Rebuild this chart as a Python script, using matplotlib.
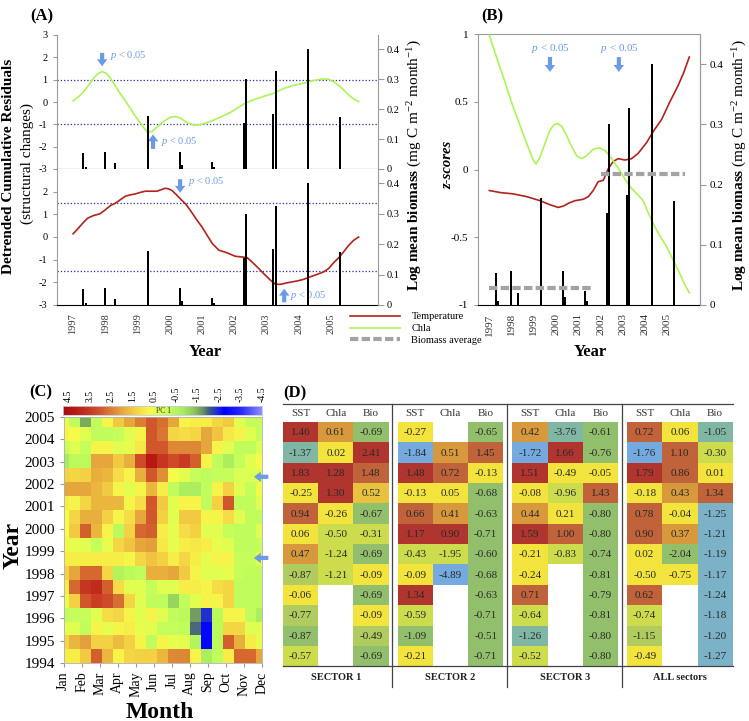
import numpy as np
import matplotlib
matplotlib.use('Agg')
import matplotlib.pyplot as plt
from matplotlib.colors import LinearSegmentedColormap, Normalize
from matplotlib.patches import Rectangle
from matplotlib.lines import Line2D

plt.rcParams['font.family'] = ['Liberation Serif', 'DejaVu Serif']
plt.rcParams['mathtext.fontset'] = 'custom'
plt.rcParams['mathtext.rm'] = 'Liberation Serif'
plt.rcParams['mathtext.it'] = 'Liberation Serif:italic'
plt.rcParams['mathtext.bf'] = 'Liberation Serif:bold'
plt.rcParams['axes.unicode_minus'] = False

# ---------------- data ----------------
# biomass bars (sampling times, log mean biomass)
bar_yr = [1997.31, 1997.40, 1997.99, 1998.30, 1999.33, 2000.32, 2000.38, 2001.31, 2001.37,
          2002.30, 2002.36, 2003.20, 2003.29, 2004.29, 2005.28]
bar_bio = [0.053, 0.007, 0.057, 0.020, 0.177, 0.057, 0.013, 0.023, 0.007,
           0.153, 0.300, 0.183, 0.327, 0.400, 0.173]

# (A) detrended cumulative residuals, Chla
chla_cum_yr = [1997.00, 1997.18, 1997.33, 1997.49, 1997.64, 1997.76, 1997.90, 1998.03, 1998.16, 1998.31,
               1998.47, 1998.67, 1998.88, 1999.09, 1999.24, 1999.33, 1999.45, 1999.60, 1999.81, 2000.02,
               2000.17, 2000.33, 2000.53, 2000.74, 2000.95, 2001.26, 2001.57, 2001.88, 2002.14, 2002.34,
               2002.60, 2002.91, 2003.22, 2003.53, 2003.84, 2004.15, 2004.46, 2004.72, 2004.93, 2005.13,
               2005.34, 2005.55, 2005.70, 2005.86]
chla_cum = [0.05, 0.25, 0.47, 0.77, 1.07, 1.26, 1.36, 1.29, 1.06, 0.72,
            0.36, -0.05, -0.53, -0.95, -1.24, -1.36, -1.32, -1.12, -0.87, -0.68,
            -0.65, -0.72, -0.92, -1.03, -1.02, -0.87, -0.68, -0.47, -0.23, -0.05,
            0.10, 0.25, 0.39, 0.60, 0.75, 0.84, 0.96, 1.03, 1.02, 0.87,
            0.62, 0.32, 0.14, 0.02]

# (A) detrended cumulative residuals, temperature
temp_cum_yr = [1997.00, 1997.12, 1997.28, 1997.45, 1997.64, 1997.83, 1998.00, 1998.16, 1998.31, 1998.47,
               1998.62, 1998.78, 1998.93, 1999.09, 1999.24, 1999.45, 1999.60, 1999.74, 1999.86, 1999.97,
               2000.07, 2000.20, 2000.33, 2000.49, 2000.64, 2000.85, 2001.00, 2001.16, 2001.32, 2001.52,
               2001.78, 2002.03, 2002.24, 2002.40, 2002.55, 2002.71, 2002.91, 2003.12, 2003.27, 2003.43,
               2003.64, 2003.95, 2004.15, 2004.31, 2004.57, 2004.77, 2004.93, 2005.08, 2005.24, 2005.39,
               2005.55, 2005.70, 2005.86]
temp_cum = [0.14, 0.32, 0.58, 0.83, 0.95, 1.02, 1.20, 1.39, 1.49, 1.65,
            1.80, 1.86, 1.90, 1.97, 2.02, 2.02, 2.02, 2.09, 2.15, 2.12,
            2.05, 1.87, 1.68, 1.46, 1.17, 0.73, 0.44, 0.07, -0.29, -0.58,
            -0.70, -0.85, -0.88, -0.91, -1.10, -1.32, -1.61, -1.90, -2.08, -2.09,
            -2.02, -1.94, -1.87, -1.78, -1.65, -1.54, -1.39, -1.14, -0.92, -0.66,
            -0.37, -0.15, 0.00]

# (B) z-scores
temp_z_yr = [1997.01, 1997.49, 1998.08, 1998.68, 1999.28, 1999.73, 2000.10, 2000.33, 2000.55, 2000.85,
             2001.22, 2001.45, 2001.67, 2001.89, 2002.12, 2002.34, 2002.57, 2002.79, 2003.09, 2003.39,
             2003.69, 2004.07, 2004.36, 2004.74, 2005.11, 2005.48, 2005.74, 2005.98]
temp_z = [-0.155, -0.17, -0.18, -0.20, -0.23, -0.26, -0.28, -0.27, -0.25, -0.23,
          -0.22, -0.20, -0.155, -0.09, -0.08, 0.005, 0.06, 0.08, 0.07, 0.08,
          0.12, 0.20, 0.28, 0.37, 0.50, 0.62, 0.72, 0.83]
chla_z_yr = [1997.01, 1997.19, 1997.41, 1997.64, 1997.86, 1998.08, 1998.31, 1998.53, 1998.76, 1998.95,
             1999.10, 1999.28, 1999.50, 1999.73, 1999.91, 2000.06, 2000.25, 2000.48, 2000.70, 2000.93,
             2001.15, 2001.37, 2001.67, 2001.94, 2002.20, 2002.50, 2002.79, 2003.09, 2003.39, 2003.69,
             2003.91, 2004.14, 2004.36, 2004.66, 2004.96, 2005.26, 2005.56, 2005.78, 2005.98]
chla_z = [0.99, 0.90, 0.79, 0.68, 0.57, 0.46, 0.36, 0.26, 0.16, 0.08,
          0.04, 0.09, 0.19, 0.29, 0.33, 0.34, 0.32, 0.25, 0.17, 0.10,
          0.08, 0.10, 0.15, 0.16, 0.14, 0.08, 0.01, -0.07, -0.14, -0.19,
          -0.23, -0.32, -0.40, -0.49, -0.57, -0.67, -0.77, -0.85, -0.91]
avg_start = [1997.0, 2002.02]
avg_end = [2001.66, 2005.78]
avg_level = [0.028, 0.218]

years = list(range(1997, 2006))

# (C) PC1 grid, top row first (19 nodes Jan..Dec)
pc1_rows = [
    [0.5, -0.3, -1.6, -0.3, 0.8, 1.5, 2.0, 2.5, 3.0, 2.7, 2.0, 0.8, 0.9, 0.9, 1.3, 1.5, 0.3, -0.2, -0.2],
    [0.8, 0.7, 0.3, -0.3, -0.3, -0.2, 0.3, 0.8, 3.0, 2.6, 1.3, 1.2, 1.3, 2.0, 1.6, 1.0, 0.8, 0.3, -0.2],
    [-0.2, 0.3, -0.2, 0.8, 0.8, 0.3, 0.4, 1.0, 3.0, 3.0, 2.4, 2.4, 2.4, 2.0, 0.8, 0.3, -0.3, -0.3, 0.2],
    [-0.9, -0.4, -0.4, 2.0, 2.0, 1.5, 1.9, 3.2, 4.2, 3.6, 3.2, 3.5, 2.9, 0.8, -0.3, -0.8, -0.2, 0.3, 0.7],
    [1.4, 1.3, 1.4, 1.9, 1.8, 1.2, 0.8, 1.9, 3.0, 2.3, 0.7, 0.3, -0.2, -0.3, -0.2, -0.2, 0.2, 0.2, 0.3],
    [2.0, 2.0, 2.0, 1.8, 1.5, 0.8, 0.3, 0.8, 1.8, 0.9, -0.3, -0.8, -0.8, -0.3, 0.8, 1.4, 0.3, -0.2, 0.6],
    [0.9, 0.8, 1.3, 1.8, 1.8, 1.8, 0.8, 1.2, 3.0, 1.5, 0.3, 0.8, 0.8, -0.3, 1.4, 3.0, -0.3, -0.3, 0.3],
    [0.7, 1.3, 1.9, 1.9, 1.4, 0.8, 1.2, 2.0, 3.0, 1.4, 0.3, 1.5, 1.5, 0.8, 0.8, 1.2, 0.3, -0.3, -0.3],
    [0.7, 1.5, 2.9, 1.8, 0.8, -0.4, 1.4, 2.8, 2.9, 0.9, 0.4, 1.2, 1.4, 0.3, 0.3, -0.2, -0.3, -0.3, 0.3],
    [0.8, 0.4, 0.3, -0.2, 0.4, 1.3, 1.6, 2.0, 2.1, 1.0, 0.4, 0.9, 1.0, 0.9, 0.4, 0.3, -0.3, -0.3, -0.2],
    [0.9, 0.9, 0.9, 0.9, 0.9, 0.9, 0.8, 1.3, 1.6, 1.4, 0.9, 1.3, 0.9, 0.4, 0.8, 0.8, -0.2, -0.2, 0.3],
    [1.4, 2.0, 2.8, 2.8, 1.3, -0.6, -0.4, -0.3, 1.9, 1.9, 2.0, 1.5, 0.8, 0.3, 0.3, 0.4, -0.2, -0.3, -0.3],
    [0.9, 2.8, 3.6, 3.8, 2.9, 1.2, 0.3, 0.3, -0.2, 0.3, 0.3, 0.9, 0.9, 0.8, 1.2, 1.3, -0.3, -0.3, -0.3],
    [0.4, 1.4, 3.0, 3.4, 3.2, 2.7, 1.3, 0.3, -0.3, -0.3, -1.2, -0.3, 0.3, 0.8, 0.8, 1.3, -0.3, -0.3, -0.3],
    [-0.3, -0.2, -0.2, 0.3, 1.2, 1.3, 0.8, 0.3, 0.8, 0.3, -0.3, -0.4, -1.7, -2.4, -0.4, 0.8, 0.8, -0.3, -0.8],
    [0.3, 0.3, -0.3, 0.8, 0.4, 0.8, 0.9, 0.4, 0.3, -0.2, -0.2, -0.3, -2.0, -2.9, -0.4, 1.3, 1.3, 0.3, 0.3],
    [1.3, 1.8, 2.1, 1.4, 1.4, 1.7, 1.4, 0.8, -0.3, 0.8, 0.4, 0.3, -0.6, -2.9, -0.4, 2.9, 1.9, 0.9, 0.4],
    [0.9, 0.9, 1.5, 2.9, 1.8, 0.8, 1.3, 1.4, 1.4, 1.8, 2.4, 2.4, 0.8, -0.8, -0.3, 0.9, 2.8, 2.8, 2.0],
]
months = ['Jan', 'Feb', 'Mar', 'Apr', 'May', 'Jun', 'Jul', 'Aug', 'Sep', 'Oct', 'Nov', 'Dec']
heat_years = list(range(1994, 2006))
cbar_ticks = [4.5, 3.5, 2.5, 1.5, 0.5, -0.5, -1.5, -2.5, -3.5, -4.5]
shift_years = [2002.32, 1998.70]

# (D) table
sectors = ['SECTOR 1', 'SECTOR 2', 'SECTOR 3', 'ALL sectors']
variables = ['SST', 'Chla', 'Bio']
s1_sst = [1.46, -1.37, 1.83, -0.25, 0.94, 0.06, 0.47, -0.87, -0.06, -0.77, -0.87, -0.57]
s1_chla = [0.61, 0.02, 1.28, 1.30, -0.26, -0.50, -1.24, -1.21, None, None, None, None]
s1_bio = [-0.69, 2.41, 1.48, 0.52, -0.67, -0.31, -0.69, -0.09, -0.69, -0.09, -0.49, -0.69]
s2_sst = [-0.27, -1.84, 1.48, -0.13, 0.66, 1.17, -0.43, -0.09, 1.34, -0.59, -1.09, -0.21]
s2_chla = [None, 0.51, 0.72, 0.05, 0.41, 0.90, -1.95, -4.89, None, None, None, None]
s2_bio = [-0.65, 1.45, -0.13, -0.68, -0.63, -0.71, -0.60, -0.68, -0.63, -0.71, -0.51, -0.71]
s3_sst = [0.42, -1.72, 1.51, -0.08, 0.44, 1.59, -0.21, -0.24, 0.71, -0.64, -1.26, -0.52]
s3_chla = [-3.76, 1.66, -0.49, -0.96, 0.21, 1.00, -0.83, None, None, None, None, None]
s3_bio = [-0.61, -0.76, -0.05, 1.43, -0.80, -0.80, -0.74, -0.81, -0.79, -0.81, -0.80, -0.80]
all_sst = [0.72, -1.76, 1.79, -0.18, 0.78, 0.90, 0.02, -0.50, 0.62, -0.74, -1.15, -0.49]
all_chla = [0.06, 1.10, 0.86, 0.43, -0.04, 0.37, -2.04, -0.75, None, None, None, None]
all_bio = [-1.05, -0.30, 0.01, 1.34, -1.25, -1.21, -1.19, -1.17, -1.24, -1.18, -1.20, -1.27]
# colour class of each cell
s1_sst_c = "RQRYTYOMYMGL"
s1_chla_c = "OYRRYLLL    "
s1_bio_c = "GRTDGLGYGYMG"
s2_sst_c = "YBRYTRLYRLGY"
s2_chla_c = " OTYORLB    "
s2_bio_c = "GTYGGGGGGGGG"
s3_sst_c = "OBRYORYYTLQL"
s3_chla_c = "QRYLYTL     "
s3_bio_c = "GGYTGGGGGGGG"
all_sst_c = "TBRYTTYYTLMY"
all_chla_c = "YTTOYOGY    "
all_bio_c = "QLYTCCCCCCCC"

# ---------------- styles ----------------
RED = '#b0231c'
GREEN = '#aef25a'
GRAY = '#a3a3a3'
DOT = '#2a2aa8'
BLUE = '#6b9be6'
SPINE = '#9a9a9a'
cell_pal = {'R': '#b0352e', 'T': '#c0623a', 'O': '#d8993c', 'D': '#e8c23e', 'Y': '#f2e43c',
            'L': '#cddc4c', 'M': '#b0cc5e', 'G': '#92bf6c', 'Q': '#80b6a4', 'B': '#74aadf',
            'C': '#7cb2c8'}
VMIN, VMAX = -4.53, 4.73
cm_v = [-4.53, -3.6, -2.8, -2.4, -2.1, -1.8, -1.4, -0.9, -0.3, 0.2, 0.7, 1.2, 1.6, 2.1, 2.6, 3.1, 3.7, 4.2, 4.73]
cm_c = ['#8c8cff', '#2a2aff', '#0000ff', '#2233c8', '#3c5a80', '#6a9060', '#8cc45c', '#a6ec5e', '#c0fc5c',
        '#dcff52', '#f6fa48', '#f6dc46', '#f0c440', '#e2a03a', '#d87832', '#d0502a', '#c4301e', '#b81a12', '#a80c0c']
cmap = LinearSegmentedColormap.from_list('pc1', [((v - VMIN) / (VMAX - VMIN), c) for v, c in zip(cm_v, cm_c)])
norm = Normalize(VMIN, VMAX)

W, H = 749, 721
fig = plt.figure(figsize=(W / 100, H / 100), dpi=100)


def px_axes(l, t, r, b):
    return fig.add_axes([l / W, 1 - b / H, (r - l) / W, (b - t) / H])


def ftext(x, y, s, **kw):
    fig.text(x / W, 1 - y / H, s, **kw)


def p_arrow(ax, x, y0, y1):
    ax.annotate('', xy=(x, y1), xytext=(x, y0),
                arrowprops=dict(arrowstyle='simple,head_width=0.75,head_length=0.5,tail_width=0.3',
                                color=BLUE, lw=0, shrinkA=0, shrinkB=0),
                annotation_clip=False)


PTXT = r'$p$ < 0.05'
BIO_LABEL = r'$\mathbf{Log\ mean\ biomass}$ (mg C m$^{-2}$ month$^{-1}$)'
XL = (1996.5, 2006.46)


def a_panel(ax, show_top):
    ax.set_xlim(*XL)
    ax.set_ylim(-3, 3)
    ticks = [3, 2, 1, 0, -1, -2, -3] if show_top else [2, 1, 0, -1, -2, -3]
    ax.set_yticks(ticks)
    ax.set_yticklabels([str(t) for t in ticks])
    ax.tick_params(axis='y', direction='out', length=3, color=SPINE, labelsize=7.5, pad=4)
    ax.spines['top'].set_visible(False)
    ax.spines['right'].set_visible(False)
    ax.spines['left'].set_color(SPINE)
    ax.spines['bottom'].set_color('black')
    axr = ax.twinx()
    axr.bar(bar_yr, bar_bio, width=0.075, color='black', zorder=3)
    axr.set_ylim(0, 0.447)
    axr.set_yticks([0, 0.1, 0.2, 0.3, 0.4])
    axr.set_yticklabels(['0', '0.1', '0.2', '0.3', '0.4'])
    axr.tick_params(axis='y', direction='out', length=4, color=SPINE, labelsize=7.5, pad=2)
    for s in ['top', 'left', 'bottom']:
        axr.spines[s].set_visible(False)
    axr.spines['right'].set_color(SPINE)
    axr.set_xlim(*XL)
    return axr


# ---------------- (A) ----------------
axA1 = px_axes(57, 35, 378, 169)
axA1.plot(chla_cum_yr, chla_cum, color=GREEN, lw=1.2, zorder=4)
axA1.axhline(1, color=DOT, ls=':', lw=0.9)
axA1.axhline(-1, color=DOT, ls=':', lw=0.9)
axA1.set_xticks([])
a_panel(axA1, True)
p_arrow(axA1, 1997.9, 2.2, 1.6)
axA1.text(1998.15, 2.1, PTXT, color=BLUE, fontsize=7.5, va='center', ha='left')
p_arrow(axA1, 1999.48, -2.1, -1.45)
axA1.text(1999.73, -1.75, PTXT, color=BLUE, fontsize=7.5, va='center', ha='left')

axA2 = px_axes(57, 169, 378, 305)
axA2.plot(temp_cum_yr, temp_cum, color=RED, lw=1.2, zorder=4)
axA2.axhline(1.5, color=DOT, ls=':', lw=0.9)
axA2.axhline(-1.5, color=DOT, ls=':', lw=0.9)
axA2.set_xticks(years)
axA2.set_xticklabels([str(y) for y in years], rotation=90, fontsize=7.5, color='#333333')
axA2.tick_params(axis='x', length=0, pad=6)
a_panel(axA2, False)
p_arrow(axA2, 2000.32, 2.55, 1.95)
axA2.text(2000.57, 2.47, PTXT, color=BLUE, fontsize=7.5, va='center', ha='left')
p_arrow(axA2, 2003.55, -2.88, -2.28)
axA2.text(2003.73, -2.56, PTXT, color=BLUE, fontsize=7.5, va='center', ha='left')

ftext(9, 166, 'Detrended Cumulative Residuals', rotation=90, ha='center', va='center',
      fontsize=11, fontweight='bold')
ftext(27, 164, '(structural changes)', rotation=90, ha='center', va='center', fontsize=11)
ftext(415, 165, BIO_LABEL, rotation=90, ha='center', va='center', fontsize=11)
ftext(205, 352, 'Year', ha='center', va='center', fontsize=12, fontweight='bold')
ftext(42, 16, '(A)', ha='center', va='center', fontsize=12, fontweight='bold')

# ---------------- (B) ----------------
axB = px_axes(478, 34, 700, 305)
axB.plot(temp_z_yr, temp_z, color=RED, lw=1.2, zorder=4)
axB.plot(chla_z_yr, chla_z, color=GREEN, lw=1.2, zorder=4)
axB.set_xlim(*XL)
axB.set_ylim(-1, 1)
axB.set_yticks([1, 0.5, 0, -0.5, -1])
axB.set_yticklabels(['1', '0.5', '0', '-0.5', '-1'])
axB.set_xticks(years)
axB.set_xticklabels([str(y) for y in years], rotation=90, fontsize=8, color='#333333')
axB.tick_params(axis='x', length=0, pad=6)
axB.tick_params(axis='y', direction='out', length=3, color=SPINE, labelsize=8, pad=4)
for s in ['top', 'left', 'right']:
    axB.spines[s].set_color(SPINE)
axB.spines['bottom'].set_color('black')
axBr = axB.twinx()
axBr.bar(bar_yr, bar_bio, width=0.1, color='black', zorder=3)
for x0, x1, lv in zip(avg_start, avg_end, avg_level):
    axBr.plot([x0, x1], [lv, lv], color=GRAY, lw=3, dashes=(2, 0.8), zorder=5)
axBr.set_ylim(0, 0.45)
axBr.set_xlim(*XL)
axBr.set_yticks([0, 0.1, 0.2, 0.3, 0.4])
axBr.set_yticklabels(['0', '0.1', '0.2', '0.3', '0.4'])
axBr.tick_params(axis='y', direction='out', length=4, color=SPINE, labelsize=8, pad=3)
for s in ['top', 'left', 'bottom']:
    axBr.spines[s].set_visible(False)
axBr.spines['right'].set_color(SPINE)
p_arrow(axB, 1999.73, 0.83, 0.72)
axB.text(1999.77, 0.895, PTXT, color=BLUE, fontsize=8, va='center', ha='center')
p_arrow(axB, 2002.82, 0.83, 0.72)
axB.text(2002.87, 0.895, PTXT, color=BLUE, fontsize=8, va='center', ha='center')

ftext(448, 165, 'z-scores', rotation=90, ha='center', va='center', fontsize=10.5,
      fontweight='bold', fontstyle='italic')
ftext(740, 165, BIO_LABEL, rotation=90, ha='center', va='center', fontsize=11)
ftext(590, 352, 'Year', ha='center', va='center', fontsize=12, fontweight='bold')
ftext(492, 16, '(B)', ha='center', va='center', fontsize=12, fontweight='bold')

handles = [Line2D([], [], color=RED, lw=1.2),
           Line2D([], [], color=GREEN, lw=1.2),
           Line2D([], [], color=GRAY, lw=3, dashes=(2, 0.8))]
fig.legend(handles, ['Temperature', 'Chla', 'Biomass average'], loc='upper left',
           bbox_to_anchor=(350 / W, 1 - 312 / H), frameon=False, fontsize=7.5,
           handlelength=4.8, handletextpad=1.1, labelspacing=0.25, borderpad=0, borderaxespad=0)

# ---------------- (C) ----------------
axC = px_axes(63.5, 416.7, 262, 663.3)
n_nodes = len(pc1_rows[0])
step = 11 / (n_nodes - 1)
x_edges = 1 + (np.arange(n_nodes + 1) - 0.5) * step
y_edges = 1994 + 0.621 * np.arange(len(pc1_rows) + 1)
axC.pcolormesh(x_edges, y_edges, np.array(pc1_rows)[::-1], cmap=cmap, norm=norm)
axC.set_xlim(1, 12)
axC.set_ylim(1994, 2005)
axC.set_xticks(range(1, 13))
axC.set_xticklabels(months, rotation=90, fontsize=10)
axC.set_yticks(heat_years)
axC.set_yticklabels([str(y) for y in heat_years], fontsize=11)
axC.tick_params(direction='out', length=3, color=SPINE, pad=3)
for s in axC.spines.values():
    s.set_color('#b0b0b0')
    s.set_linewidth(0.6)
for yy in shift_years:
    axC.annotate('', xy=(11.55, yy), xytext=(12.35, yy),
                 arrowprops=dict(arrowstyle='simple,head_width=0.75,head_length=0.5,tail_width=0.3',
                                 color=BLUE, lw=0, shrinkA=0, shrinkB=0),
                 annotation_clip=False)

axCb = px_axes(63.3, 405.7, 262.3, 414.7)
axCb.imshow(np.linspace(VMAX, VMIN, 400)[None, :], extent=(VMAX, VMIN, 0, 1), aspect='auto',
            cmap=cmap, norm=norm)
axCb.set_xlim(VMAX, VMIN)
axCb.set_ylim(0, 1)
axCb.set_yticks([])
axCb.xaxis.tick_top()
axCb.set_xticks(cbar_ticks)
axCb.set_xticklabels([str(t) for t in cbar_ticks], rotation=90, fontsize=7)
axCb.tick_params(axis='x', length=0, pad=3)
for s in axCb.spines.values():
    s.set_color('#c8c8e8')
    s.set_linewidth(0.6)
axCb.text(0.07, 0.45, 'PC 1', fontsize=5.5, ha='center', va='center', color='#333333')

ftext(13, 545, 'Year', rotation=90, ha='center', va='center', fontsize=17, fontweight='bold')
ftext(160, 712, 'Month', ha='center', va='center', fontsize=17, fontweight='bold')
ftext(41, 392, '(C)', ha='center', va='center', fontsize=12, fontweight='bold')

# ---------------- (D) ----------------
axD = px_axes(270, 385, 745, 700)
axD.set_xlim(270, 745)
axD.set_ylim(700, 385)
axD.axis('off')

table = [[(s1_sst, s1_sst_c), (s1_chla, s1_chla_c), (s1_bio, s1_bio_c)],
         [(s2_sst, s2_sst_c), (s2_chla, s2_chla_c), (s2_bio, s2_bio_c)],
         [(s3_sst, s3_sst_c), (s3_chla, s3_chla_c), (s3_bio, s3_bio_c)],
         [(all_sst, all_sst_c), (all_chla, all_chla_c), (all_bio, all_bio_c)]]
x0, sec_w, col_w = 283, 114.7, 35.2
row_top, row_h = 422, 20.35
for si, sec in enumerate(table):
    left = x0 + si * sec_w
    for ci, (vals, codes) in enumerate(sec):
        cx = left + ci * col_w
        axD.text(cx + col_w / 2, 414, variables[ci], ha='center', va='center', fontsize=8,
                 color='#333333')
        for ri, v in enumerate(vals):
            if v is None:
                continue
            ry = row_top + ri * row_h
            axD.add_patch(Rectangle((cx, ry), col_w, row_h, facecolor=cell_pal[codes[ri]],
                                    edgecolor='none'))
            axD.text(cx + col_w / 2, ry + row_h / 2 + 0.5, '%.2f' % v, ha='center', va='center',
                     fontsize=8, color='#2a2a2a')
    axD.text(left + 1.5 * col_w, 678, sectors[si], ha='center', va='center', fontsize=7.5,
             fontweight='bold', color='#222222')
    if si > 0:
        axD.plot([left - 5.5, left - 5.5], [404, 687], color='#444444', lw=0.9)
bottom = row_top + 12 * row_h
axD.plot([x0, x0 + 3 * sec_w + 3 * col_w], [404, 404], color='#444444', lw=0.9)
axD.plot([x0, x0 + 3 * sec_w + 3 * col_w], [bottom, bottom], color='#444444', lw=0.9)

ftext(295, 393, '(D)', ha='center', va='center', fontsize=12, fontweight='bold')

fig.savefig('out.png', dpi=100)
